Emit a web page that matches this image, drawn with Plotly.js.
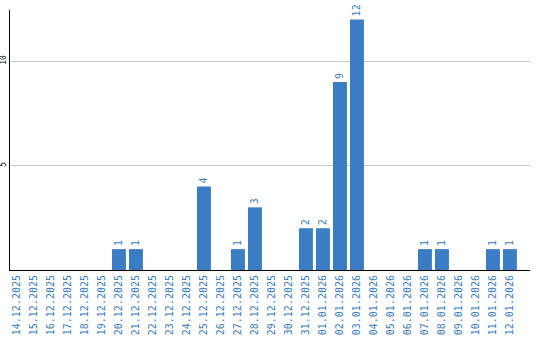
<!DOCTYPE html>
<html><head><meta charset="utf-8">
<script src="https://cdn.plot.ly/plotly-3.0.1.min.js"></script>
<style>html,body{margin:0;padding:0;background:#fff}#c{width:540px;height:340px}</style>
</head><body><div id="c"></div>
<script>
const dates = ["14.12.2025","15.12.2025","16.12.2025","17.12.2025","18.12.2025","19.12.2025","20.12.2025","21.12.2025","22.12.2025","23.12.2025","24.12.2025","25.12.2025","26.12.2025","27.12.2025","28.12.2025","29.12.2025","30.12.2025","31.12.2025","01.01.2026","02.01.2026","03.01.2026","04.01.2026","05.01.2026","06.01.2026","07.01.2026","08.01.2026","09.01.2026","10.01.2026","11.01.2026","12.01.2026"];
const counts = [0,0,0,0,0,0,1,1,0,0,0,4,0,1,3,0,0,2,2,9,12,0,0,0,1,1,0,0,1,1];
const labels = counts.map(v => v > 0 ? String(v) : "");
const blue = "#3a7dc4";
Plotly.newPlot("c", [{
  type: "bar", x: dates, y: counts, text: labels,
  textposition: "outside", textangle: -90, cliponaxis: false,
  textfont: {family: "DejaVu Sans Mono", size: 10, color: blue},
  marker: {color: blue}, hoverinfo: "none"
}], {
  width: 540, height: 340, margin: {l: 10, r: 10, t: 10, b: 70},
  paper_bgcolor: "#fff", plot_bgcolor: "#fff", showlegend: false, bargap: 0.18,
  xaxis: {type: "category", range: [-0.41, 30.18], tickangle: -90, automargin: false,
    tickfont: {family: "DejaVu Sans Mono", size: 10, color: blue},
    showline: true, linecolor: "#000", linewidth: 1, ticks: "", showgrid: false},
  yaxis: {range: [0, 12.45], tickvals: [5, 10], ticktext: ["5", "10"], tickangle: -90, automargin: false,
    tickfont: {family: "DejaVu Sans Mono", size: 8, color: "#000"},
    showline: true, linecolor: "#000", linewidth: 1, ticks: "", showgrid: true, gridcolor: "#c8c8c8",
    zeroline: false}
}, {staticPlot: true});
</script></body></html>
